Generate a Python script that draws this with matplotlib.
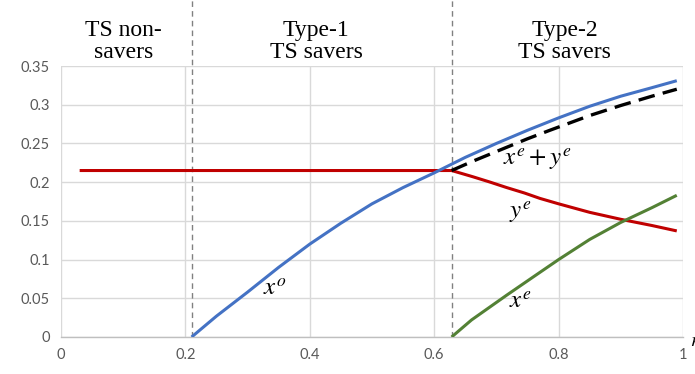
import matplotlib
matplotlib.use("Agg")
import matplotlib.pyplot as plt
from matplotlib.lines import Line2D

plt.rcParams['mathtext.fontset'] = 'stix'

# Data
x_red = [0.03, 0.2, 0.4, 0.6, 0.628, 0.645, 0.662, 0.69, 0.7165, 0.745, 0.77, 0.8, 0.85, 0.9, 0.95, 0.99]
y_red = [0.215, 0.215, 0.215, 0.215, 0.215, 0.211, 0.207, 0.2, 0.193, 0.186, 0.179, 0.172, 0.161, 0.152, 0.144, 0.137]

x_blue = [0.21, 0.25, 0.3, 0.35, 0.4, 0.45, 0.5, 0.55, 0.6, 0.65, 0.7, 0.75, 0.8, 0.85, 0.9, 0.95, 0.99]
y_blue = [0.0, 0.027, 0.058, 0.09, 0.12, 0.147, 0.172, 0.193, 0.212, 0.232, 0.25, 0.267, 0.283, 0.298, 0.311, 0.322, 0.331]

x_green = [0.628, 0.66, 0.7165, 0.76, 0.8, 0.85, 0.9, 0.95, 0.99]
y_green = [0.0, 0.022, 0.054, 0.078, 0.1, 0.126, 0.148, 0.167, 0.183]

x_black = [0.628, 0.662, 0.7165, 0.75, 0.786, 0.85, 0.9, 0.95, 0.99]
y_black = [0.215, 0.227, 0.245, 0.256, 0.267, 0.286, 0.299, 0.311, 0.32]

boundaries = [0.21, 0.628]
region_labels = ["TS non-\nsavers", "Type-1\nTS savers", "Type-2\nTS savers"]
region_x = [0.1, 0.41, 0.81]

xticks = [0, 0.2, 0.4, 0.6, 0.8, 1]
xtick_labels = ["0", "0.2", "0.4", "0.6", "0.8", "1"]
yticks = [0, 0.05, 0.1, 0.15, 0.2, 0.25, 0.3, 0.35]
ytick_labels = ["0", "0.05", "0.1", "0.15", "0.2", "0.25", "0.3", "0.35"]

fig = plt.figure(figsize=(6.95, 3.74), dpi=100)
ax = fig.add_axes([61/695, 1-337/374, (683-61)/695, (337-66)/374])

ax.set_xlim(0, 1)
ax.set_ylim(0, 0.35)
ax.set_xticks(xticks)
ax.set_xticklabels(xtick_labels)
ax.set_yticks(yticks)
ax.set_yticklabels(ytick_labels)
ax.grid(True, color='#d9d9d9', linewidth=1.0)
ax.set_axisbelow(True)
for s in ['top', 'right', 'left']:
    ax.spines[s].set_visible(False)
ax.spines['bottom'].set_color('#bfbfbf')
ax.spines['bottom'].set_linewidth(1.0)
ax.tick_params(length=0, labelsize=10.5, labelcolor='#595959', pad=8)
for lab in ax.get_xticklabels() + ax.get_yticklabels():
    lab.set_fontfamily('Lato')

ax.plot(x_red, y_red, color='#c00000', lw=2.2, solid_capstyle='butt', zorder=3)
ax.plot(x_blue, y_blue, color='#4472c4', lw=2.2, solid_capstyle='butt', zorder=4)
ax.plot(x_green, y_green, color='#538135', lw=2.2, solid_capstyle='butt', zorder=3)
ax.plot(x_black, y_black, color='black', lw=2.4, ls=(0, (5, 2.5)), zorder=5)

# vertical dashed boundaries extending to top of figure
for b in boundaries:
    line = Line2D([b, b], [0, 0.35 + 66/774], transform=ax.transData, color='#808080',
                  lw=1.0, ls=(0, (4, 3)), clip_on=False, zorder=2)
    ax.add_line(line)

for lab, xp in zip(region_labels, region_x):
    ax.text(xp, 0.35 + 0.004, lab, ha='center', va='bottom', fontsize=17,
            family='Liberation Serif', linespacing=1.05)

ax.text(0.344, 0.063, r'$x^o$', fontsize=18, ha='center', va='center')
ax.text(0.765, 0.229, r'$x^e + y^e$', fontsize=18, ha='center', va='center')
ax.text(0.738, 0.160, r'$y^e$', fontsize=18, ha='center', va='center')
ax.text(0.738, 0.046, r'$x^e$', fontsize=18, ha='center', va='center')
ax.text(1.012, -0.004, r'$r$', fontsize=14, ha='left', va='center', clip_on=False)

fig.savefig('out.png', dpi=100)
